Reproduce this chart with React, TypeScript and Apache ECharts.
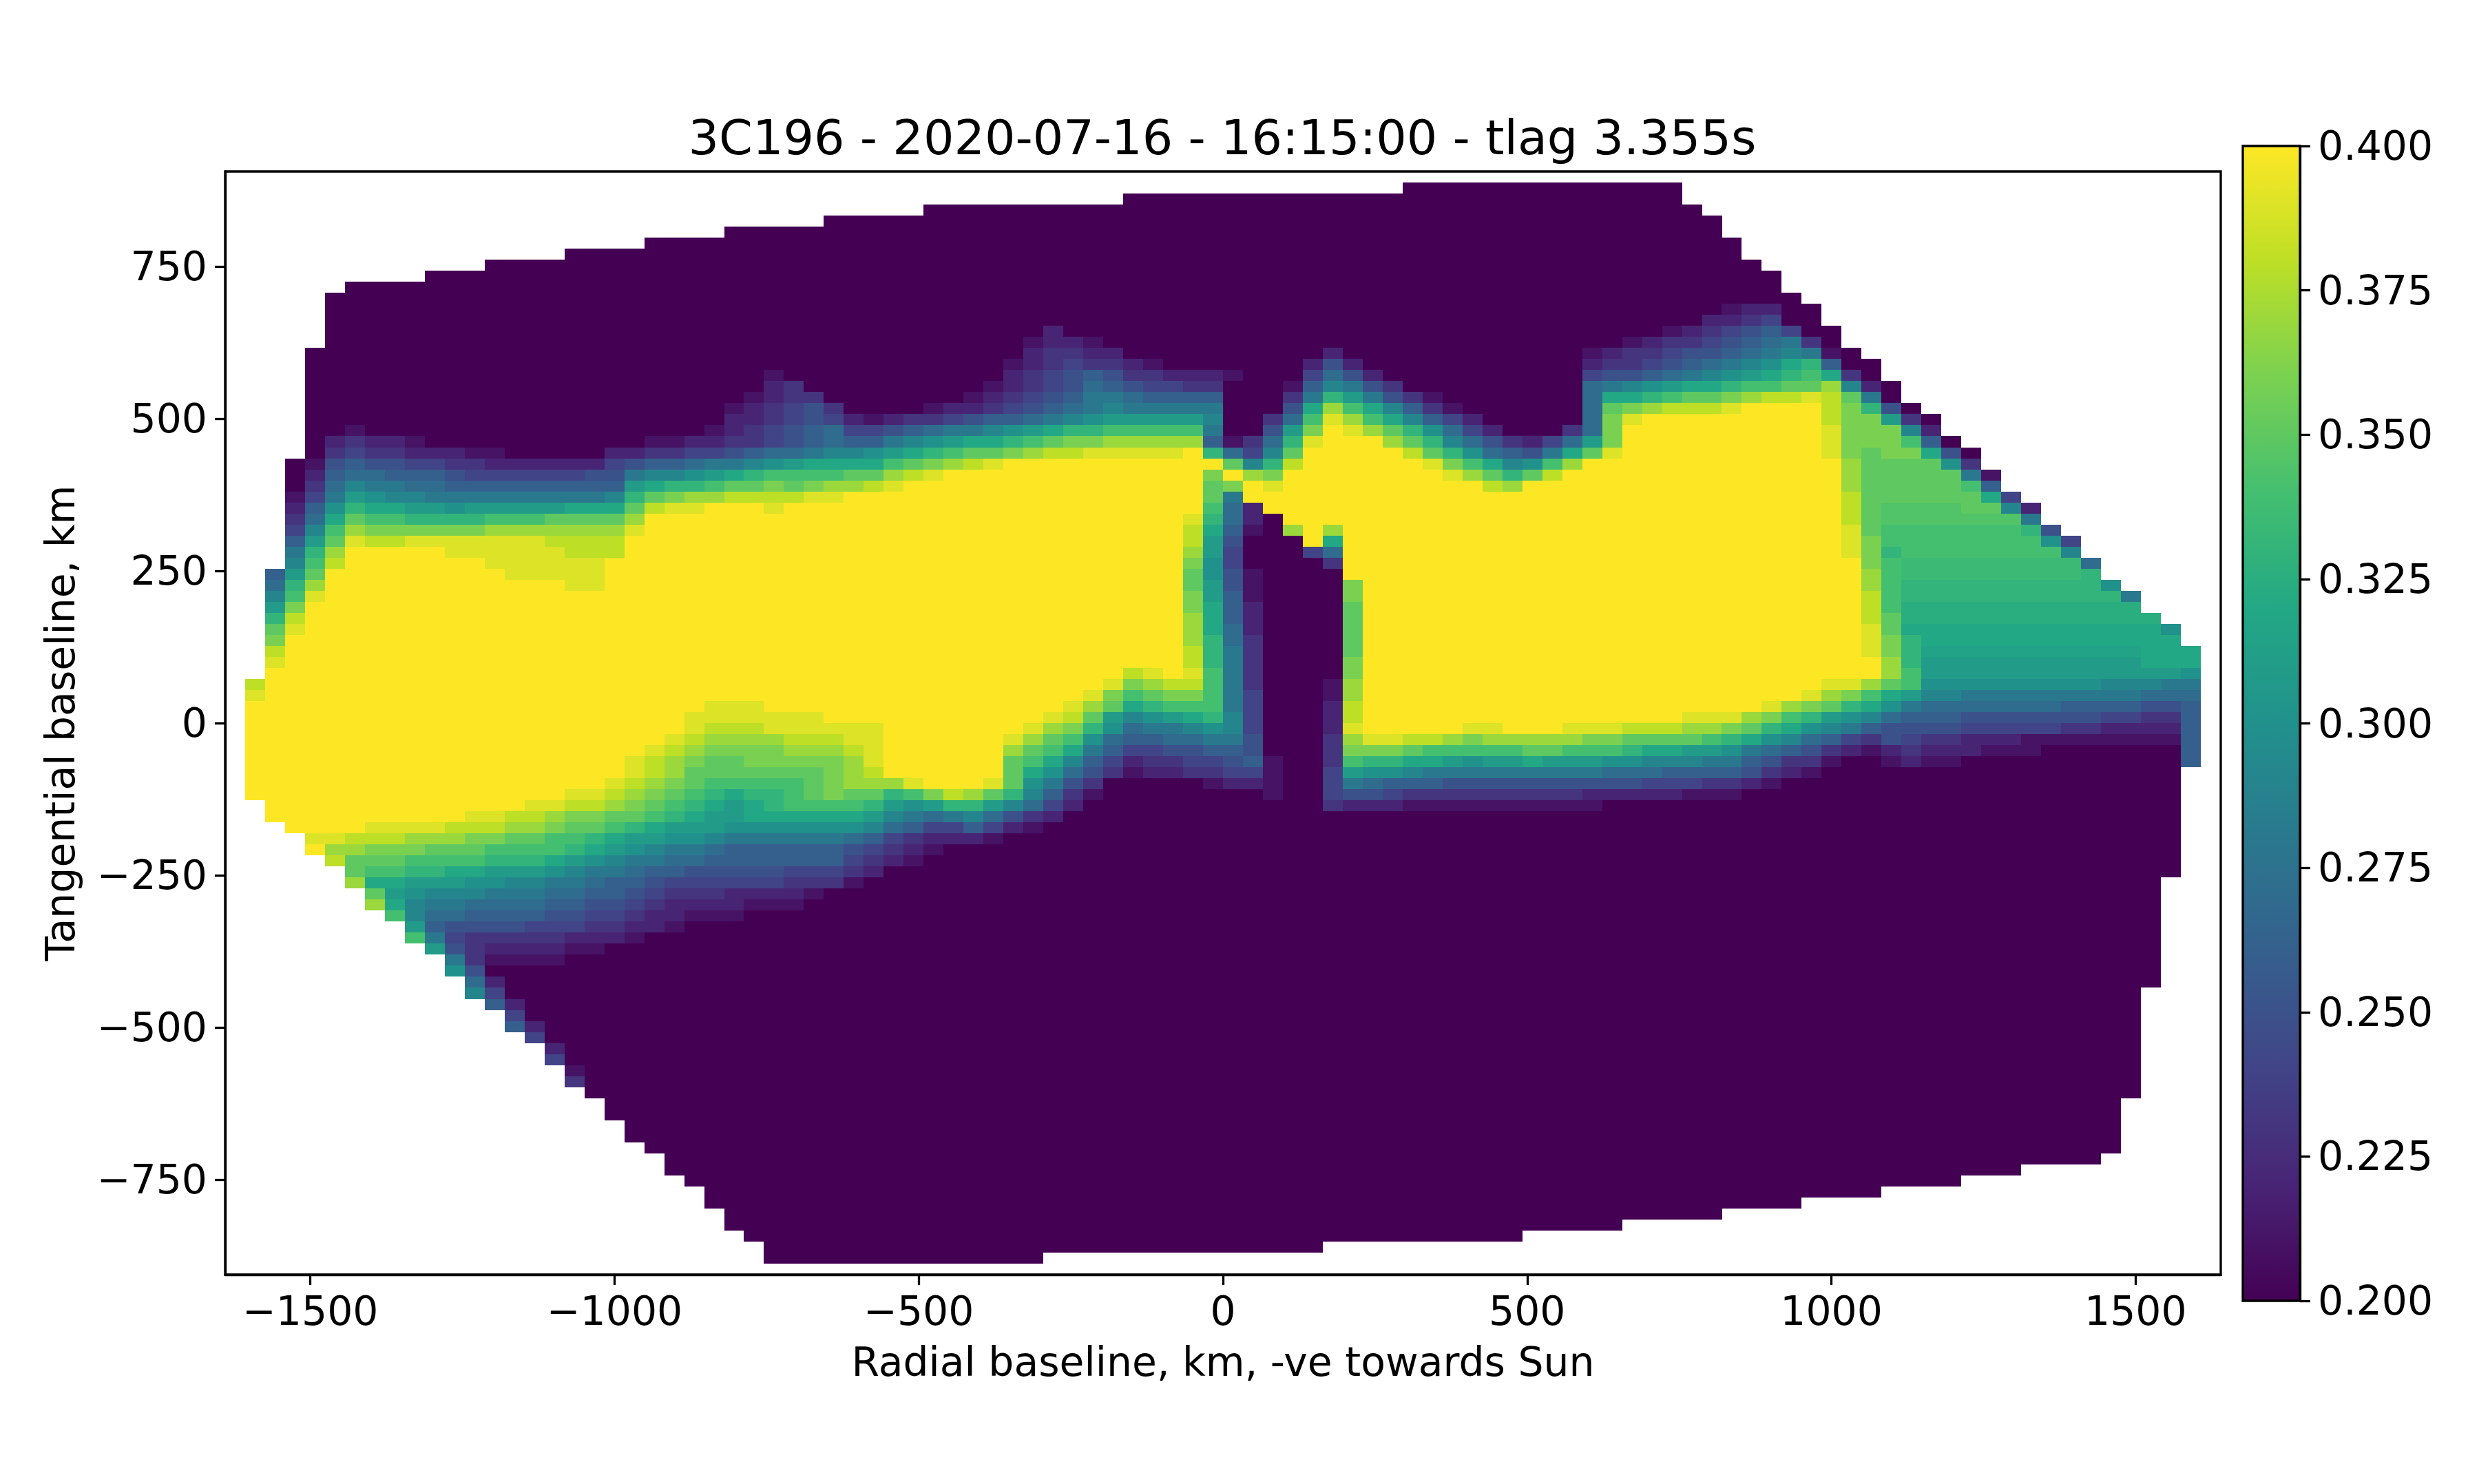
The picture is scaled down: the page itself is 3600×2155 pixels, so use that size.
import React, { useEffect, useRef } from "react";
import * as echarts from "echarts";

const TITLE = "3C196 - 2020-07-16 - 16:15:00 - tlag 3.355s";
const X_LABEL = "Radial baseline, km, -ve towards Sun";
const Y_LABEL = "Tangential baseline, km";
const X_TICKS = [-1500, -1000, -500, 0, 500, 1000, 1500];
const Y_TICKS = [-750, -500, -250, 0, 250, 500, 750];
const VIRIDIS = ["#440154", "#482475", "#414487", "#355f8d", "#2a788e", "#21918c", "#22a884", "#44bf70", "#7ad151", "#bddf26", "#fde725"];

// mesh of the pcolormesh
const X_MIN = -1640, X_MAX = 1640, Y_MIN = -906, Y_MAX = 906, MESH = 100;
const LEVELS = "abcdefghijklmnopqrstu"; // a = 0.20 ... u = 0.40 in steps of 0.01; a capital is half a step above its small letter

// first and last filled row (from the top) for columns 1..98
const COL_TOP = [46,36,26,16,11,10,10,10,10,9,9,9,8,8,8,8,7,7,7,7,6,6,6,6,5,5,5,5,5,4,4,4,4,4,3,3,3,3,3,3,3,3,3,3,2,2,2,2,2,2,2,2,2,2,2,2,2,2,1,1,1,1,1,1,1,1,1,1,1,1,1,1,3,4,6,8,9,11,12,14,16,17,19,21,22,24,25,27,29,30,32,33,35,37,38,40,41,43];
const COL_BOTTOM = [56,58,59,61,62,64,66,67,69,70,72,74,75,77,78,80,82,83,85,87,88,90,91,93,95,96,98,98,98,98,98,98,98,98,98,98,98,98,98,98,97,97,97,97,97,97,97,97,97,97,97,97,97,97,96,96,96,96,96,96,96,96,96,96,95,95,95,95,95,94,94,94,94,94,93,93,93,93,92,92,92,92,91,91,91,91,90,90,90,89,89,89,89,88,83,73,63,53];

// rows 12..82: "<col><level>" = from this column on the value is this level; before the first token: floor "a"
const FIRST_BAND_ROW = 12;
const BAND_ROWS = [
"75b76c78a",
"74c76d77e78a",
"41c42a72b73c74d75e76f77g78e79a",
"40b41c43b44a70b71c72d74e75f76g77h78i79d80a",
"40c41d43c45a55c56a68b69c70d72e73f75g76h77i78j79i80b81a",
"39b40c41d42e43d45c46b47a54c55f56c57a68c69d71e72f73g74h75i76j77k78m79n80g81a",
"27b28a39c40d41e42f43g44f45d47c50b51a54e55h56f57c58a68e69f71g72h73i74j75k76l77m78n79o80m81d82a",
"27c28d29a38b39c40d41e42f43h44g45f46e48d50a53b54g55j56i57f58d59a68h69i70j71k72l73m75n76o78p80r81j82c83a",
"26b27c28d30a37b38c39d40e41f42g43i45h46g50a53d54i55n56l57i58f59d60b61a68h69m71n72o73p75q76r77s79t80s81p82i83a",
"25b26c27d28e29f30d31a35b36c38d39e40f41g42h43i44j45i50a53f54m55r56o57m58j59g60d61b62a68h69p70q71r72s75t76u80s81q82n83f84a",
"25c27d28e29f30e31c32b33c34d36e37f38g40h41i42j43k44l49j50a52d53h54o55t56r57o58m59j60g61e62c63a68h69q70t71u80s81q83l84d85a",
"6b7a24b25c26d27e28f29g30h31e33f34g35h36i38j39k40l41m42n44o49i50a52f53l54q55u56t57r58p59n60k61h62e63c64a67d68h69q70u80t81q84j85c86a",
"5c6d7c9b10a21b23c25d27e28f29g30h31g33i34j35k36l37m39n40o41p42q44r49g50b51d52h53n54t55u58r59p60n61j62h63f64d65c66e67h68l69q70u80t81q84o85g86a",
"5d6e7d9c12b14a19c21d23e25f26g27h29i30j32k33l34m35n36o37p39q40r41s43t48u49n50h51e52j53p54u59s60p61n62k63h64g65f66i67m68p69t70u80t81q82p83q85m86f87a",
"4b5f6g7f9e11d13c19e20f21g23h24i26j27k28l29m33o34p35q36r37s38t39u50p51j52n53s54u60t61q62o63m64j65k66o67r68u81r82p86k87d88a",
"4c5g6h8g11f12e18f20i21j23k24l25m26n27o31p33r34s35t36u49q50u51r52q53u61t62r63p64n65p66s67u81r82p87i88b",
"4d5h6j7i9h11g20l21m22n24o25p27q28p29q30r32s33t34u49p50q51u52t53u63s64r65u81r82p87o88g",
"3b4e5i6l7k8j10i19j20n21p22q23r25s29t31u49p50i51u81s82p88m89e",
"3c4g5k6n7m9l11k12l17m20p21s22t24u27t28u49o50h51c52u81s82p83O87p89j90c",
"3d4h5m6p7o9n13o16p20r21u48t49n50h51c52a53u81s82p83O90i",
"3e4j5o6r7q13r20t21u48s49m50g51b52a53r54u55r56u81t82p83o90n91f",
"3g4l5p6t7s9t16s20u48s49l50f51a54u55m56u81t82q83o91k92e",
"3i4n5r6u11t17s20u48r49l50e51a54e55h56u81t82q83n84o92j",
"3j4o5s6u13t19u48q49k50e51a55d56u82q83o84N93h",
"2g3l4p5u14t19u48p49k50f51b52a56u82r83o84N93n",
"2h3n4r5u17t19u48p49l50f51b52a56q57u82r83o84n94k",
"2j3o4t5u48q49l50g51b52a56q57u82s83o84n95i",
"2l3q4u48q49m50g51c52a56p57u82s83o84M",
"2n3s4u48r49m50g51c52a56p57u82s83p84M",
"2p3t4u48r49m50h51c52a56p57u82t83p84m97k",
"2q3u48r49n50h51d52a56p57u82t83q84n85m",
"2s3u48s49n50i51d52a56p57u82t83q84n85L96m",
"2t3u48s49n50i51d52a56q57u82u83r84n85l96m",
"2u45s46t47u48t49o50i51d52a56q57u83r84o85l98k",
"1s2u44t45q46r47s49o50i51d52a55b56r57u80t82r83p84o85k94j97i",
"1t2u43t44q45o46p47q49o50i51e52a55b56r57u79t80r81q82o83m84l85j87i96h",
"1u24t27u42t43r44p45m46n47o50i51e52a55c56s57u77t78r79q80p81n82m83k84i85h92g96f98g",
"1u23t30u41t42s43p44l45j46k47l48m49n50j51e52a55c56s57u73t76r77q78o79n80l81k82j83h84g87f94e96d98g",
"1u23t24s27t33u40t41r42q43n44k45h46i48j49k50j51e52a55c56t57u62t64u67t70s73r75q76p77n78m79k80j81i82g83f87e92d94c98g",
"1u22t23s24r28s31t33u39t40r41p42o43k44h45g47h49i51f52a55d56r57t59s61r62q63r68q70p74o75n76m77k78j79h80g81e82d83f84e85d87c90b98g",
"1u21t22s23r24q28r31s32t33u39r40p41o42m43i44g45e47f49g51f52a55d56q59p60o65p67o70n71m73l75k76i77h78g79f80d81c82b83c84d85c88b91a98g",
"1u20t21s22r23q24p26q31r32t33u39p40o41m42j43g44e45c46d48e50f51g52b53a55d56o57n59m61l62k63l65m66l69k71j74i76g77f78d80b81a83b84c85b87a98g",
"1u20t21s22r23p30q31r32s33u39p40m41k42h43f44d45b46c48d50e52b53a55e56l57k59j60i69h72g76f77d78c79b80a",
"1u19t20s21r22q23p24o29p30q31r34t35u38t39p40k41i42f43d44a49b50c52b53a55e56i57h58g61f71e74d76c77b78a",
"1u17t19s20r21q22p23o24n25m26n28o29p30q31p33n34o35q36s37r38p39n40j41g42d43b44a52b53a55e56f58e59d68c73b76a",
"2u15t17s19r20q21p22o23n24m25l26m27n28o32n33l34k35l36n38l39j40h41e42c43a55d56c59b69a",
"2u12t14s16r17q19p21o22n23m24l26m32l33j34i35h36i37j38h39f40d41c42a",
"3u7t11s14r16q17p19o20n21m22l25k32j33h34g35e37g38e39c40b41a",
"4t6s9r12q14p16o18n19m20l22k24j25i31h32g33e34d35c38b39a",
"4u5r7q10p13o17n18m19l20k21j22i24h25g31f32e33d34c35b36a",
"5s6p9o13n16m17l18k19j20i22h24g31e32d33c34b35a",
"6p7o9n11m13l16k17j18i20h21g23f28e31d32c33a",
"6r7m9l12k14j16i18h19g21f22e28d31b32a",
"7p8l9k10j13i16h18g20f21e22d25c29b30a",
"7r8m9j10i12h16g18f20e21d22c26b29a",
"8o9j10h12g16f18e20d21c23b26a",
"9l10g11f15e18d20c22b23a",
"9o10i11e12d17c20b21a",
"10l11f12d13c17b19a",
"11i12d13b17a",
"11k12f13a",
"12h13c14a",
"12j13e14a",
"13g14c15a",
"14e15a",
"14g15c16a",
"15e16a",
"16c17a",
"16e17a",
"17b18a",
"17d18a",
];

function levelOf(ch: string): number {
  const lower = ch.toLowerCase();
  return LEVELS.indexOf(lower) + (ch === lower ? 0 : 0.5);
}

function buildCells(): number[][] {
  const dx = (X_MAX - X_MIN) / MESH;
  const dy = (Y_MAX - Y_MIN) / MESH;
  const levels: number[][] = [];
  for (let r = 0; r < MESH; r++) levels.push(new Array(MESH).fill(0));
  BAND_ROWS.forEach((row, i) => {
    const tokens = [...row.matchAll(/(\d+)([a-uA-T])/g)];
    tokens.forEach((t, k) => {
      const from = Number(t[1]);
      const to = k + 1 < tokens.length ? Number(tokens[k + 1][1]) : MESH;
      for (let c = from; c < to; c++) levels[FIRST_BAND_ROW + i][c] = levelOf(t[2]);
    });
  });
  const cells: number[][] = [];
  COL_TOP.forEach((top, i) => {
    const c = i + 1;
    for (let r = top; r <= COL_BOTTOM[i]; r++) {
      cells.push([X_MIN + (c + 0.5) * dx, Y_MAX - (r + 0.5) * dy, 0.2 + levels[r][c] * 0.01]);
    }
  });
  return cells;
}

export default function App() {
  const ref = useRef<HTMLDivElement>(null);
  useEffect(() => {
    const chart = echarts.init(ref.current!, undefined, { renderer: "svg" });
    const dx = (X_MAX - X_MIN) / MESH;
    const dy = (Y_MAX - Y_MIN) / MESH;
    const FONT = "DejaVu Sans";
    const TICK_SIZE = 58.4;
    const label = (v: number) => String(v).replace("-", "\u2212");
    const spine = { show: true, onZero: false, lineStyle: { color: "#000", width: 3.3 } };
    const tick = { show: true, inside: false, length: 15, lineStyle: { color: "#000", width: 3.3 } };
    chart.setOption({
      animation: false,
      backgroundColor: "#ffffff",
      title: {
        text: TITLE,
        left: 1770,
        top: 160,
        textAlign: "center",
        textStyle: { fontFamily: FONT, fontSize: 70, fontWeight: "normal", color: "#000" },
      },
      grid: [
        { left: 327, top: 249, width: 2898, height: 1602, show: true, borderColor: "#000", borderWidth: 3.3, backgroundColor: "transparent", z: 5 },
        { left: 3257, top: 212, width: 83, height: 1677, show: true, borderColor: "#000", borderWidth: 3.3, backgroundColor: "transparent", z: 5 },
      ],
      xAxis: [
        {
          type: "value", gridIndex: 0, min: X_MIN, max: X_MAX, splitLine: { show: false },
          name: X_LABEL, nameLocation: "middle", nameGap: 98,
          nameTextStyle: { fontFamily: FONT, fontSize: TICK_SIZE, color: "#000" },
          axisLine: spine,
          axisTick: { ...tick, customValues: X_TICKS },
          axisLabel: { customValues: X_TICKS, margin: 24, formatter: label, fontFamily: FONT, fontSize: TICK_SIZE, color: "#000" },
        },
        { type: "value", gridIndex: 1, min: 0, max: 1, show: false },
      ],
      yAxis: [
        {
          type: "value", gridIndex: 0, min: Y_MIN, max: Y_MAX, splitLine: { show: false },
          name: Y_LABEL, nameLocation: "middle", nameGap: 210,
          nameTextStyle: { fontFamily: FONT, fontSize: TICK_SIZE, color: "#000" },
          axisLine: spine,
          axisTick: { ...tick, customValues: Y_TICKS },
          axisLabel: { customValues: Y_TICKS, margin: 26, formatter: label, fontFamily: FONT, fontSize: TICK_SIZE, color: "#000" },
        },
        {
          type: "value", gridIndex: 1, position: "right", min: 0.2, max: 0.4, interval: 0.025, splitLine: { show: false },
          axisLine: spine,
          axisTick: tick,
          axisLabel: { margin: 26, formatter: (v: number) => v.toFixed(3), fontFamily: FONT, fontSize: TICK_SIZE, color: "#000" },
        },
      ],
      visualMap: { show: false, type: "continuous", seriesIndex: 0, dimension: 2, min: 0.2, max: 0.4, inRange: { color: VIRIDIS } },
      series: [
        {
          type: "custom",
          xAxisIndex: 0,
          yAxisIndex: 0,
          silent: true,
          progressive: 0,
          encode: { x: 0, y: 1 },
          data: buildCells(),
          renderItem: (_p: any, api: any) => {
            const x = api.value(0), y = api.value(1);
            const a = api.coord([x - dx / 2, y + dy / 2]);
            const b = api.coord([x + dx / 2, y - dy / 2]);
            const x0 = Math.round(a[0]), y0 = Math.round(a[1]);
            return {
              type: "rect",
              shape: { x: x0, y: y0, width: Math.round(b[0]) - x0, height: Math.round(b[1]) - y0 },
              style: { fill: api.visual("color") },
            };
          },
        },
        {
          type: "custom",
          xAxisIndex: 1,
          yAxisIndex: 1,
          silent: true,
          data: [[0, 0.2, 1, 0.4]],
          encode: { x: [0, 2], y: [1, 3] },
          renderItem: (_p: any, api: any) => {
            const a = api.coord([api.value(0), api.value(3)]);
            const b = api.coord([api.value(2), api.value(1)]);
            return {
              type: "rect",
              shape: { x: a[0], y: a[1], width: b[0] - a[0], height: b[1] - a[1] },
              style: {
                fill: new echarts.graphic.LinearGradient(0, 1, 0, 0, VIRIDIS.map((color, i) => ({ offset: i / (VIRIDIS.length - 1), color }))),
              },
            };
          },
        },
      ],
    });
    return () => chart.dispose();
  }, []);
  return <div ref={ref} style={{ position: "absolute", left: 0, top: 0, width: 3600, height: 2155 }} />;
}
